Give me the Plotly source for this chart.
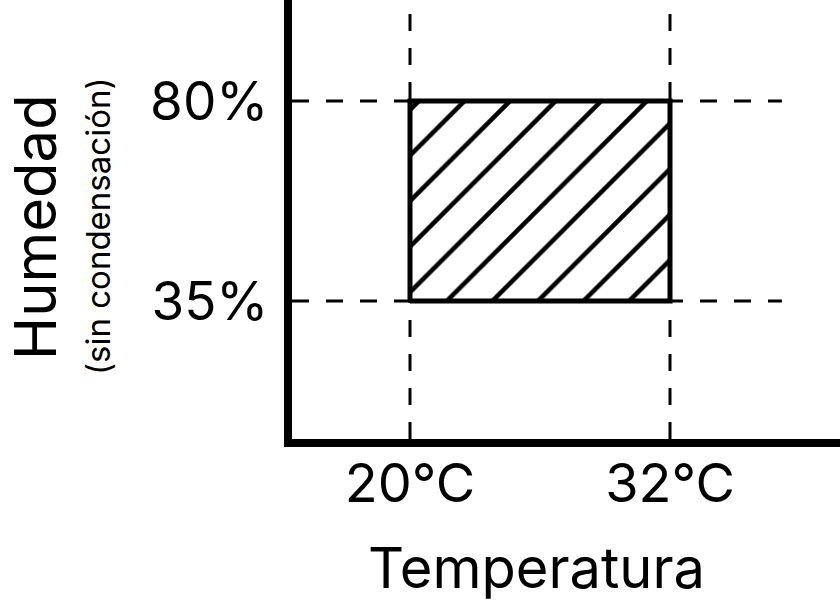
import plotly.graph_objects as go

# Data
temp_limits = [20, 32]          # °C
hum_limits = [35, 80]           # %
temp_labels = ["20°C", "32°C"]
hum_labels = ["35%", "80%"]

FONT = "Inter"

rect_x = [temp_limits[0], temp_limits[1], temp_limits[1], temp_limits[0], temp_limits[0]]
rect_y = [hum_limits[0], hum_limits[0], hum_limits[1], hum_limits[1], hum_limits[0]]

fig = go.Figure()
fig.add_trace(go.Scatter(
    x=rect_x, y=rect_y, mode="lines", fill="toself",
    fillcolor="white",
    fillpattern=dict(shape="/", size=32.23, solidity=0.14, fgcolor="black",
                     fgopacity=1, bgcolor="white"),
    line=dict(color="black", width=5),
    hoverinfo="skip", showlegend=False,
))

shapes = []
for h in hum_limits:
    shapes.append(dict(type="line", xref="paper", x0=0, x1=0.894, yref="y", y0=h, y1=h,
                       line=dict(color="black", width=3, dash="17px,17px"), layer="below"))
for t in temp_limits:
    shapes.append(dict(type="line", xref="x", x0=t, x1=t, yref="paper", y0=0, y1=0.99,
                       line=dict(color="black", width=3, dash="17px,17px"), layer="below"))

fig.update_layout(
    width=840, height=603,
    margin=dict(l=292, r=0, t=0, b=164),
    paper_bgcolor="white", plot_bgcolor="white",
    showlegend=False,
    shapes=shapes,
    font=dict(family=FONT, color="black"),
    xaxis=dict(range=[14.554, 39.846], tickvals=temp_limits, ticktext=temp_labels,
               showgrid=False, zeroline=False, showline=True, linewidth=8, linecolor="black",
               ticks="", tickfont=dict(size=54, family=FONT, color="black"), ticklabelstandoff=-10),
    yaxis=dict(range=[3.95, 102.725], tickvals=hum_limits, ticktext=hum_labels,
               showgrid=False, zeroline=False, showline=True, linewidth=8, linecolor="black",
               ticks="", tickfont=dict(size=53, family=FONT, color="black"), ticklabelstandoff=5),
    annotations=[
        dict(text="Temperatura", xref="paper", yref="paper", x=0.447, y=-0.294,
             xanchor="center", yanchor="middle", showarrow=False,
             font=dict(size=56, family=FONT, color="black")),
        dict(text="Humedad", xref="paper", yref="paper", x=-0.469, y=0.483,
             xanchor="center", yanchor="middle", showarrow=False, textangle=-90,
             font=dict(size=58, family=FONT, color="black")),
        dict(text="(sin condensación)", xref="paper", yref="paper", x=-0.354, y=0.483,
             xanchor="center", yanchor="middle", showarrow=False, textangle=-90,
             font=dict(size=33, family=FONT, color="black")),
    ],
)

fig.write_html("out.html", config={"displayModeBar": False},
               post_script="document.body.style.margin='0';document.body.style.overflow='hidden';")
